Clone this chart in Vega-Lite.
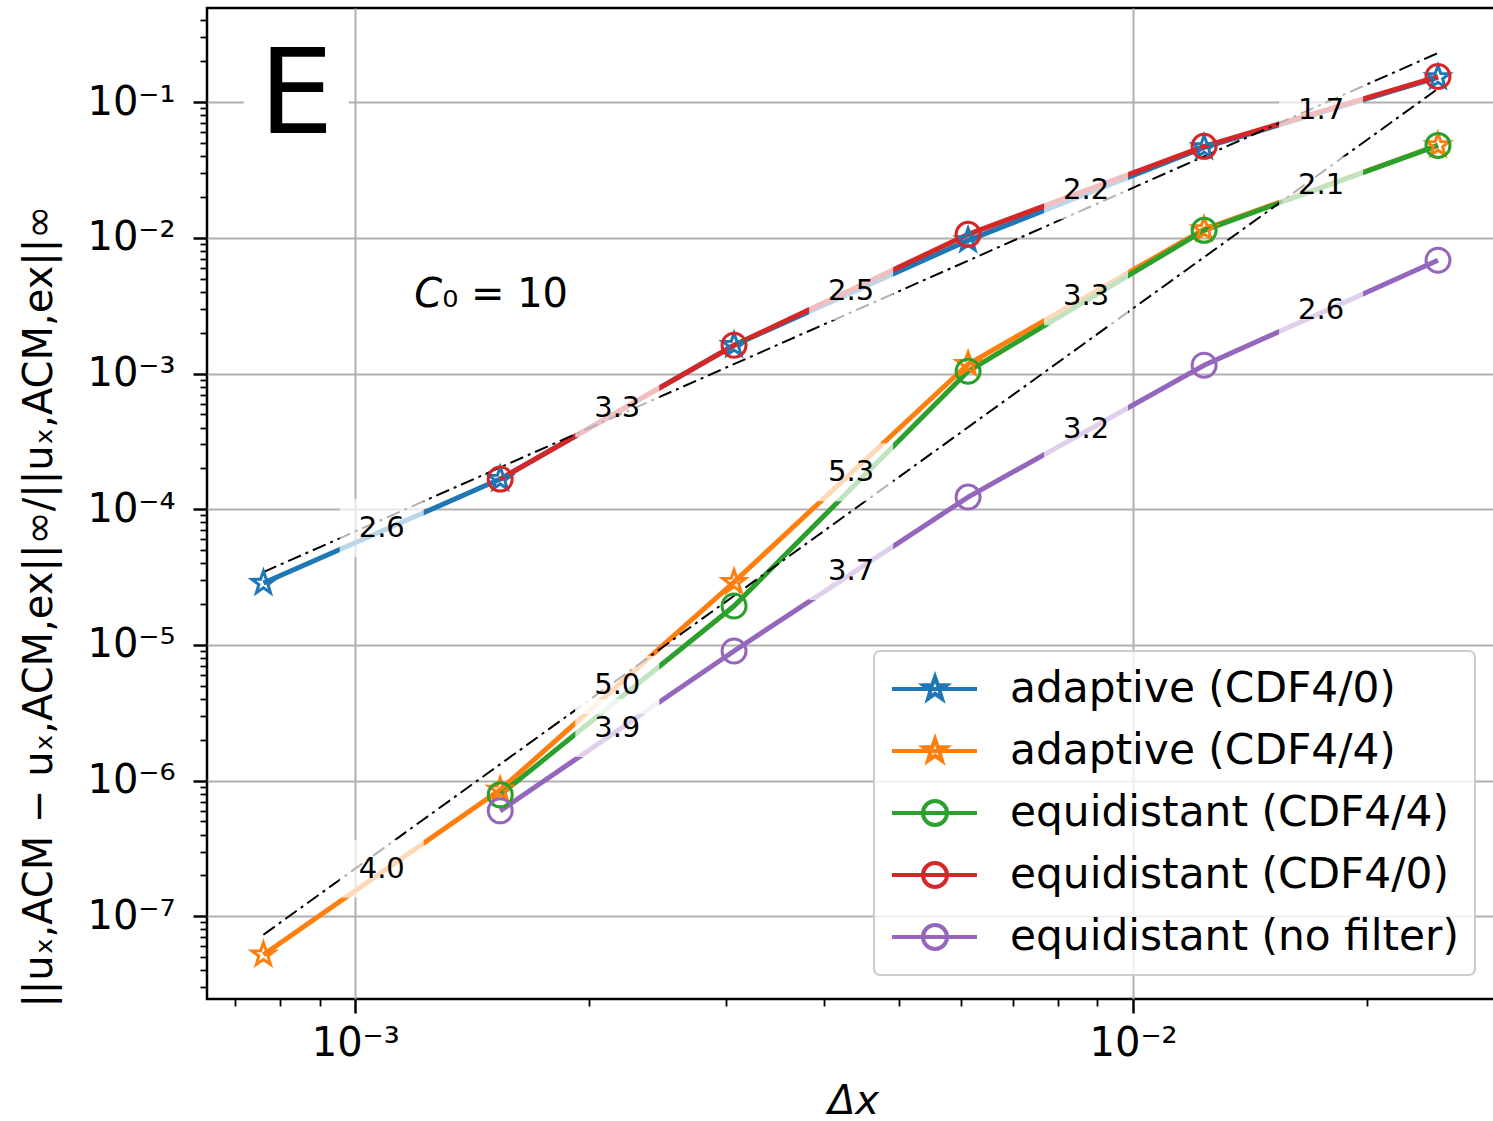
{
  "$schema": "https://vega.github.io/schema/vega-lite/v6.json",
  "width": 1292,
  "height": 991,
  "autosize": {"type": "none"},
  "padding": {"left": 207, "top": 8, "right": 0, "bottom": 122},
  "background": "white",
  "config": {
    "font": "DejaVu Sans",
    "view": {"stroke": "black", "strokeWidth": 2.5},
    "legend": {
      "orient": "bottom-right",
      "offset": 24,
      "padding": 16,
      "rowPadding": 18,
      "labelFontSize": 42.3,
      "labelColor": "black",
      "labelOffset": 76,
      "labelLimit": 0,
      "symbolSize": 1600,
      "symbolStrokeWidth": 4,
      "fillColor": "rgba(255,255,255,0.8)",
      "strokeColor": "#cccccc",
      "cornerRadius": 6
    }
  },
  "datasets": {
    "errors": [
      {"method": "adaptive (CDF4/0)", "dx": 0.000762, "err": 2.856e-5},
      {"method": "adaptive (CDF4/0)", "dx": 0.001536, "err": 1.666e-4},
      {"method": "adaptive (CDF4/0)", "dx": 0.003069, "err": 1.616e-3},
      {"method": "adaptive (CDF4/0)", "dx": 0.006136, "err": 9.58e-3},
      {"method": "adaptive (CDF4/0)", "dx": 0.01234, "err": 4.64e-2},
      {"method": "adaptive (CDF4/0)", "dx": 0.02466, "err": 0.152},
      {"method": "adaptive (CDF4/4)", "dx": 0.000762, "err": 5.21e-8},
      {"method": "adaptive (CDF4/4)", "dx": 0.001536, "err": 8.54e-7},
      {"method": "adaptive (CDF4/4)", "dx": 0.003069, "err": 2.905e-5},
      {"method": "adaptive (CDF4/4)", "dx": 0.006136, "err": 1.171e-3},
      {"method": "adaptive (CDF4/4)", "dx": 0.01234, "err": 1.155e-2},
      {"method": "adaptive (CDF4/4)", "dx": 0.02466, "err": 4.80e-2},
      {"method": "equidistant (CDF4/4)", "dx": 0.001536, "err": 7.85e-7},
      {"method": "equidistant (CDF4/4)", "dx": 0.003069, "err": 1.934e-5},
      {"method": "equidistant (CDF4/4)", "dx": 0.006136, "err": 1.039e-3},
      {"method": "equidistant (CDF4/4)", "dx": 0.01234, "err": 1.135e-2},
      {"method": "equidistant (CDF4/4)", "dx": 0.02466, "err": 4.80e-2},
      {"method": "equidistant (CDF4/0)", "dx": 0.001536, "err": 1.666e-4},
      {"method": "equidistant (CDF4/0)", "dx": 0.003069, "err": 1.616e-3},
      {"method": "equidistant (CDF4/0)", "dx": 0.006136, "err": 1.061e-2},
      {"method": "equidistant (CDF4/0)", "dx": 0.01234, "err": 4.72e-2},
      {"method": "equidistant (CDF4/0)", "dx": 0.02466, "err": 0.1544},
      {"method": "equidistant (no filter)", "dx": 0.001536, "err": 5.98e-7},
      {"method": "equidistant (no filter)", "dx": 0.003069, "err": 9.02e-6},
      {"method": "equidistant (no filter)", "dx": 0.006136, "err": 1.228e-4},
      {"method": "equidistant (no filter)", "dx": 0.01234, "err": 1.151e-3},
      {"method": "equidistant (no filter)", "dx": 0.02466, "err": 6.83e-3}
    ],
    "fits": [
      {"fit": "upper", "dx": 0.000762, "err": 3.441e-5},
      {"fit": "upper", "dx": 0.024585, "err": 0.2284},
      {"fit": "lower", "dx": 0.000762, "err": 7.305e-8},
      {"fit": "lower", "dx": 0.024585, "err": 0.124}
    ],
    "slopes": [
      {"label": "2.6", "dx": 0.0010816, "err": 7.256e-5},
      {"label": "3.3", "dx": 0.002172, "err": 5.553e-4},
      {"label": "2.5", "dx": 0.00434, "err": 4.036e-3},
      {"label": "2.2", "dx": 0.0087, "err": 2.238e-2},
      {"label": "1.7", "dx": 0.017445, "err": 8.688e-2},
      {"label": "5.0", "dx": 0.002172, "err": 5.066e-6},
      {"label": "5.3", "dx": 0.00434, "err": 1.875e-4},
      {"label": "3.3", "dx": 0.0087, "err": 3.709e-3},
      {"label": "2.1", "dx": 0.017445, "err": 2.435e-2},
      {"label": "4.0", "dx": 0.0010816, "err": 2.238e-7},
      {"label": "3.9", "dx": 0.002172, "err": 2.444e-6},
      {"label": "3.7", "dx": 0.00434, "err": 3.501e-5},
      {"label": "3.2", "dx": 0.0087, "err": 3.889e-4},
      {"label": "2.6", "dx": 0.017445, "err": 2.924e-3}
    ],
    "panel": [
      {"label": "E", "dx": 0.0008398, "err": 0.1065}
    ],
    "c0": [
      {"sym": "C", "rest": "₀ = 10", "dx": 0.0012934, "err": 3.773e-3}
    ]
  },
  "encoding": {
    "x": {
      "field": "dx",
      "type": "quantitative",
      "scale": {"type": "log", "domain": [0.0006448, 0.02954], "nice": false},
      "axis": {
        "title": "Δx",
        "titleFontSize": 40,
        "titleFontStyle": "italic",
        "titleFontWeight": "normal",
        "titleColor": "black",
        "titlePadding": 18,
        "values": [0.0007, 0.0008, 0.0009, 0.001, 0.002, 0.003, 0.004, 0.005, 0.006, 0.007, 0.008, 0.009, 0.01, 0.02],
        "labelExpr": "abs(log(datum.value)/LN10 - round(log(datum.value)/LN10)) < 0.001 ? '10⁻' + ['⁰','¹','²','³','⁴','⁵','⁶','⁷','⁸','⁹'][-round(log(datum.value)/LN10)] : ''",
        "labelFontSize": 40,
        "labelColor": "black",
        "labelPadding": 10,
        "labelOverlap": false,
        "labelFlush": false,
        "labelBound": false,
        "domain": false,
        "tickColor": "black",
        "tickSize": {"condition": {"test": "abs(log(datum.value)/LN10 - round(log(datum.value)/LN10)) < 0.001", "value": 14}, "value": 7},
        "tickWidth": {"condition": {"test": "abs(log(datum.value)/LN10 - round(log(datum.value)/LN10)) < 0.001", "value": 2.5}, "value": 1.8},
        "grid": true,
        "gridColor": "#b0b0b0",
        "gridWidth": 2,
        "gridOpacity": {"condition": {"test": "abs(log(datum.value)/LN10 - round(log(datum.value)/LN10)) < 0.001", "value": 1}, "value": 0}
      }
    },
    "y": {
      "field": "err",
      "type": "quantitative",
      "scale": {"type": "log", "domain": [2.456e-8, 0.494], "nice": false},
      "axis": {
        "title": "||uₓ,ACM − uₓ,ACM,ex||∞/||uₓ,ACM,ex||∞",
        "titleFontSize": 40,
        "titleFontWeight": "normal",
        "titleColor": "black",
        "titleX": -168,
        "titleY": 598,
        "titleAngle": -90,
        "titleAlign": "center",
        "titleBaseline": "middle",
        "values": [3e-8, 4e-8, 5e-8, 6e-8, 7e-8, 8e-8, 9e-8, 1e-7, 2e-7, 3e-7, 4e-7, 5e-7, 6e-7, 7e-7, 8e-7, 9e-7, 1e-6, 2e-6, 3e-6, 4e-6, 5e-6, 6e-6, 7e-6, 8e-6, 9e-6, 1e-5, 2e-5, 3e-5, 4e-5, 5e-5, 6e-5, 7e-5, 8e-5, 9e-5, 1e-4, 2e-4, 3e-4, 4e-4, 5e-4, 6e-4, 7e-4, 8e-4, 9e-4, 1e-3, 2e-3, 3e-3, 4e-3, 5e-3, 6e-3, 7e-3, 8e-3, 9e-3, 1e-2, 2e-2, 3e-2, 4e-2, 5e-2, 6e-2, 7e-2, 8e-2, 9e-2, 1e-1, 2e-1, 3e-1, 4e-1],
        "labelExpr": "abs(log(datum.value)/LN10 - round(log(datum.value)/LN10)) < 0.001 ? '10⁻' + ['⁰','¹','²','³','⁴','⁵','⁶','⁷','⁸','⁹'][-round(log(datum.value)/LN10)] : ''",
        "labelFontSize": 40,
        "labelColor": "black",
        "labelPadding": 18,
        "labelOverlap": false,
        "labelFlush": false,
        "labelBound": false,
        "domain": false,
        "tickColor": "black",
        "tickSize": {"condition": {"test": "abs(log(datum.value)/LN10 - round(log(datum.value)/LN10)) < 0.001", "value": 14}, "value": 7},
        "tickWidth": {"condition": {"test": "abs(log(datum.value)/LN10 - round(log(datum.value)/LN10)) < 0.001", "value": 2.5}, "value": 1.8},
        "grid": true,
        "gridColor": "#b0b0b0",
        "gridWidth": 2,
        "gridOpacity": {"condition": {"test": "abs(log(datum.value)/LN10 - round(log(datum.value)/LN10)) < 0.001", "value": 1}, "value": 0}
      }
    },
    "color": {
      "field": "method",
      "type": "nominal",
      "scale": {
        "domain": ["adaptive (CDF4/0)", "adaptive (CDF4/4)", "equidistant (CDF4/4)", "equidistant (CDF4/0)", "equidistant (no filter)"],
        "range": ["#1f77b4", "#ff7f0e", "#2ca02c", "#d62728", "#9467bd"]
      },
      "legend": {
        "title": null,
        "encode": {
          "symbols": {
            "update": {
              "shape": {"signal": "indexof(datum.value, 'adaptive') === 0 ? 'M-1,0L3.25,0M1.15,-0.6L1.2911,-0.1942L1.7207,-0.1854L1.3782,0.0742L1.5027,0.4854L1.15,0.24L0.7973,0.4854L0.9218,0.0742L0.5793,-0.1854L1.0089,-0.1942Z' : 'M-1,0L3.25,0M1.75,0A0.6,0.6,0,1,1,0.55,0A0.6,0.6,0,1,1,1.75,0'"},
              "fill": {"value": "transparent"},
              "strokeWidth": {"value": 4},
              "size": {"value": 1600},
              "opacity": {"value": 1}
            }
          },
          "legend": {"update": {"strokeWidth": {"value": 2}}}
        }
      }
    }
  },
  "layer": [
    {
      "data": {"name": "errors"},
      "mark": {"type": "line", "strokeWidth": 5}
    },
    {
      "data": {"name": "fits"},
      "mark": {"type": "line", "color": "black", "strokeWidth": 2, "strokeDash": [14, 5, 3, 5]},
      "encoding": {"color": {"value": "black"}, "detail": {"field": "fit", "type": "nominal"}}
    },
    {
      "data": {"name": "errors"},
      "transform": [{"filter": "indexof(datum.method, 'adaptive') === 0"}],
      "mark": {"type": "point", "filled": false, "size": 576, "strokeWidth": 3, "opacity": 1, "shape": "M0,-1L0.2351,-0.3236L0.9511,-0.309L0.3804,0.1236L0.5878,0.809L0,0.4L-0.5878,0.809L-0.3804,0.1236L-0.9511,-0.309L-0.2351,-0.3236Z"}
    },
    {
      "data": {"name": "errors"},
      "transform": [{"filter": "indexof(datum.method, 'adaptive') !== 0"}],
      "mark": {"type": "point", "filled": false, "size": 576, "strokeWidth": 3, "opacity": 1, "shape": "circle"}
    },
    {
      "data": {"name": "slopes"},
      "mark": {"type": "point", "shape": "M-1,-0.69L1,-0.69L1,0.69L-1,0.69Z", "size": 7056, "filled": true, "fill": "white", "opacity": 0.7, "strokeWidth": 0},
      "encoding": {"color": {"value": "white"}}
    },
    {
      "data": {"name": "slopes"},
      "mark": {"type": "text", "fontSize": 29, "color": "black"},
      "encoding": {"color": {"value": "black"}, "text": {"field": "label", "type": "nominal"}}
    },
    {
      "data": {"name": "panel"},
      "mark": {"type": "point", "shape": "square", "size": 11025, "filled": true, "fill": "white", "opacity": 1, "strokeWidth": 0},
      "encoding": {"color": {"value": "white"}}
    },
    {
      "data": {"name": "panel"},
      "mark": {"type": "text", "fontSize": 118, "color": "black"},
      "encoding": {"color": {"value": "black"}, "text": {"field": "label", "type": "nominal"}}
    },
    {
      "data": {"name": "c0"},
      "mark": {"type": "text", "fontSize": 40, "fontStyle": "italic", "align": "right", "color": "black"},
      "encoding": {"color": {"value": "black"}, "text": {"field": "sym", "type": "nominal"}}
    },
    {
      "data": {"name": "c0"},
      "mark": {"type": "text", "fontSize": 40, "align": "left", "color": "black"},
      "encoding": {"color": {"value": "black"}, "text": {"field": "rest", "type": "nominal"}}
    }
  ]
}
